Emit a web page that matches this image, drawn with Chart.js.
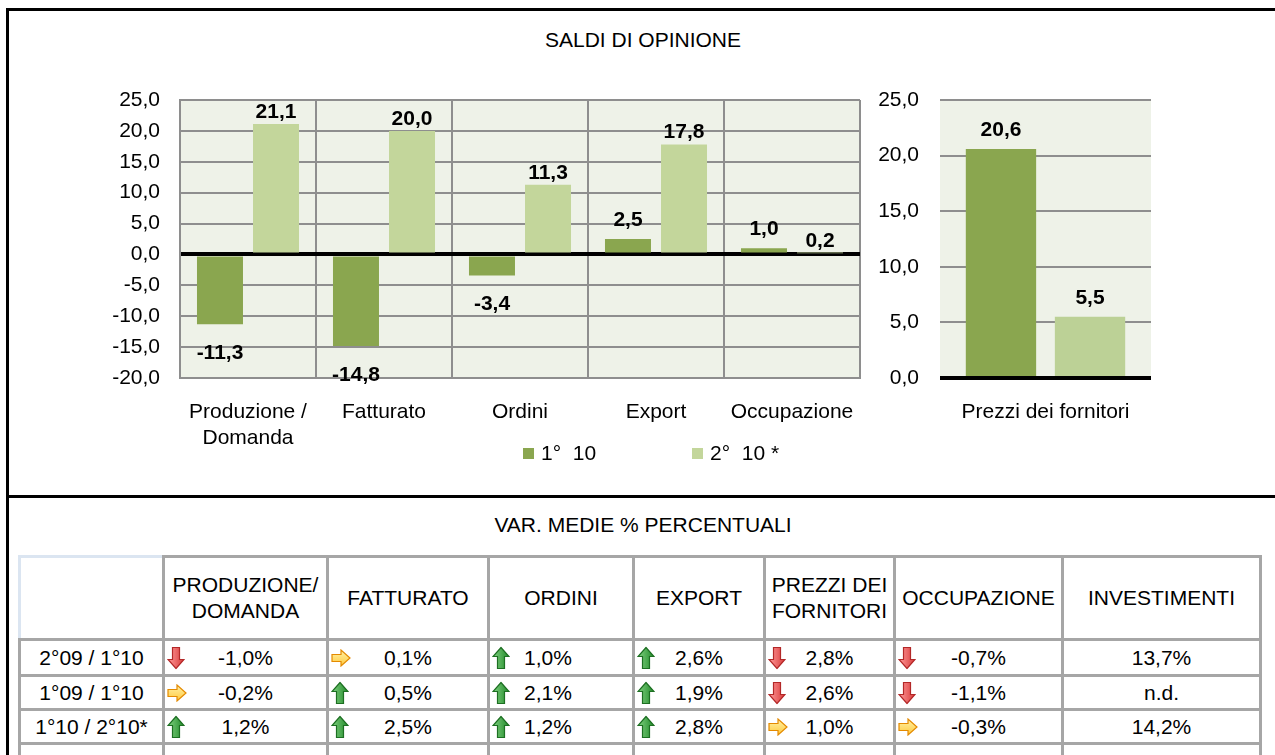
<!DOCTYPE html>
<html>
<head>
<meta charset="utf-8">
<script src="https://cdn.jsdelivr.net/npm/chart.js@4.4.1/dist/chart.umd.min.js"></script>
<style>
  html, body { margin: 0; padding: 0; background: #fff; overflow: hidden; }
  body { width: 1275px; height: 755px; position: relative; font-family: "Liberation Sans", Arial, sans-serif; color: #000; }
  .frame-top { position: absolute; left: 6px; top: 8px; width: 1300px; height: 3px; background: #000; }
  .frame-left { position: absolute; left: 6px; top: 8px; width: 3px; height: 760px; background: #000; }
  .frame-mid { position: absolute; left: 6px; top: 495px; width: 1300px; height: 3px; background: #000; }
  .titolo { position: absolute; left: 0; width: 1286px; text-align: center; font-size: 21px; line-height: 22px; }
  #legend { position: absolute; left: 523px; top: 442px; display: flex; font-size: 21px; line-height: 22px; }
  #legend .item { display: flex; align-items: center; margin-right: 96px; }
  #legend .box { width: 11px; height: 11px; margin-right: 7px; }
  #tabella { position: absolute; left: 18px; top: 555px; border-collapse: collapse; table-layout: fixed; font-size: 21px; }
  #tabella td { border: 3px solid #a6a6a6; text-align: center; padding: 0; position: relative; white-space: nowrap; }
  #tabella tr.head td { height: 80px; line-height: 26px; }
  #tabella tr.riga td { height: 31px; line-height: 31px; }
  #tabella tr.riga.prima td { height: 33px; line-height: 33px; }
  #tabella tr.vuota td { height: 20px; border-bottom: none; }
  #tabella td.angolo { border-top-color: #dbe5f1; border-left-color: #dbe5f1; }
  #tabella svg { position: absolute; left: 2px; top: 50%; transform: translateY(-50%); }
</style>
</head>
<body>
<div class="frame-top"></div>
<div class="frame-left"></div>
<div class="frame-mid"></div>

<div class="titolo" style="top:29px;">SALDI DI OPINIONE</div>
<canvas id="saldiChart" width="880" height="420" style="position:absolute; left:0; top:60px;"></canvas>
<canvas id="prezziChart" width="415" height="420" style="position:absolute; left:860px; top:60px;"></canvas>
<div id="legend"></div>

<div class="titolo" style="top:514px;">VAR. MEDIE % PERCENTUALI</div>
<table id="tabella"></table>

<script>
// *************************************************************
// dati
// *************************************************************
var categories   = [["Produzione /", "Domanda"], "Fatturato", "Ordini", "Export", "Occupazione"];
var serie1       = [-11.3, -14.8, -3.4, 2.5, 1.0];
var serie2       = [21.1, 20.0, 11.3, 17.8, 0.2];
var prezziCat    = ["Prezzi dei fornitori"];
var prezzi1      = [20.6];
var prezzi2      = [5.5];
var seriesLabels = ["1°  10", "2°  10 *"];

var tableHeaders = ["", "PRODUZIONE/<br>DOMANDA", "FATTURATO", "ORDINI", "EXPORT", "PREZZI DEI<br>FORNITORI", "OCCUPAZIONE", "INVESTIMENTI"];
var rowLabels    = ["2°09 / 1°10", "1°09 / 1°10", "1°10 / 2°10*"];
var varRiga1     = [-1.0, 0.1, 1.0, 2.6, 2.8, -0.7, 13.7];
var varRiga2     = [-0.2, 0.5, 2.1, 1.9, 2.6, -1.1, null];
var varRiga3     = [1.2, 2.5, 1.2, 2.8, 1.0, -0.3, 14.2];
var trendRiga1   = ["down", "right", "up", "up", "down", "down", null];
var trendRiga2   = ["right", "up", "up", "up", "down", "down", null];
var trendRiga3   = ["up", "up", "up", "up", "right", "right", null];

var colors      = ["#8aa64f", "#c3d69b"];
var colorsPrezzi = ["#8aa64f", "#bcd196"];
var colWidths   = [144, 164, 161, 145, 131, 130, 168, 198];
var plotBg      = "#eef2e8";
var gridGrey    = "#8e8e8e";
var FONT        = '"Liberation Sans", Arial, sans-serif';

function fmt(v) { return v.toFixed(1).replace(".", ","); }

// sfondo area grafico
var plotBackground = {
    id: "plotBackground",
    beforeDraw: function (chart) {
        var a = chart.chartArea, ctx = chart.ctx;
        ctx.save();
        ctx.fillStyle = plotBg;
        ctx.fillRect(a.left, a.top, a.right - a.left, a.bottom - a.top);
        ctx.restore();
    }
};

// etichette dei valori
var valueLabels = {
    id: "valueLabels",
    afterDatasetsDraw: function (chart) {
        var ctx = chart.ctx;
        ctx.save();
        ctx.font = "bold 21px " + FONT;
        ctx.fillStyle = "#000";
        ctx.textAlign = "center";
        ctx.textBaseline = "alphabetic";
        chart.data.datasets.forEach(function (ds, i) {
            chart.getDatasetMeta(i).data.forEach(function (bar, j) {
                var v = ds.data[j];
                if (v >= 0) {
                    ctx.fillText(fmt(v), bar.x, bar.y - ds.labelGap);
                } else {
                    ctx.fillText(fmt(v), bar.x, bar.y + 35);
                }
            });
        });
        ctx.restore();
    }
};

function zeroLine(ctx) {
    return ctx.tick && ctx.tick.value === 0 ? "#000" : gridGrey;
}
function zeroWidth(ctx) {
    return ctx.tick && ctx.tick.value === 0 ? 4 : 2;
}

// *************************************************************
// grafico saldi
// *************************************************************
new Chart(document.getElementById("saldiChart"), {
    type: "bar",
    data: {
        labels: categories,
        datasets: [
            { label: seriesLabels[0], data: serie1, backgroundColor: colors[0], labelGap: 13,
              categoryPercentage: 0.824, barPercentage: 0.821 },
            { label: seriesLabels[1], data: serie2, backgroundColor: colors[1], labelGap: 6,
              categoryPercentage: 0.824, barPercentage: 0.821 }
        ]
    },
    options: {
        responsive: false,
        animation: false,
        layout: { padding: { top: 40, right: 20, left: 0, bottom: 0 } },
        plugins: { legend: { display: false }, tooltip: { enabled: false } },
        scales: {
            x: {
                afterFit: function (s) { s.height = 102; },
                grid: { color: gridGrey, lineWidth: 2, drawTicks: false, offset: true },
                border: { color: gridGrey, width: 2 },
                ticks: { color: "#000", padding: 22, font: { family: FONT, size: 21 } }
            },
            y: {
                min: -20, max: 25,
                afterFit: function (s) { s.width = 180; },
                grid: { color: zeroLine, lineWidth: zeroWidth, drawTicks: false },
                border: { color: gridGrey, width: 2 },
                ticks: { stepSize: 5, color: "#000", padding: 20, font: { family: FONT, size: 21 },
                         callback: function (v) { return fmt(v); } }
            }
        }
    },
    plugins: [plotBackground, valueLabels]
});

// *************************************************************
// grafico prezzi dei fornitori
// *************************************************************
new Chart(document.getElementById("prezziChart"), {
    type: "bar",
    data: {
        labels: prezziCat,
        datasets: [
            { label: seriesLabels[0], data: prezzi1, backgroundColor: colorsPrezzi[0], labelGap: 13,
              categoryPercentage: 0.844, barPercentage: 0.79 },
            { label: seriesLabels[1], data: prezzi2, backgroundColor: colorsPrezzi[1], labelGap: 13,
              categoryPercentage: 0.844, barPercentage: 0.79 }
        ]
    },
    options: {
        responsive: false,
        animation: false,
        layout: { padding: { top: 40, right: 124, left: 0, bottom: 0 } },
        plugins: { legend: { display: false }, tooltip: { enabled: false } },
        scales: {
            x: {
                afterFit: function (s) { s.height = 102; },
                grid: { display: false },
                border: { display: false },
                ticks: { color: "#000", padding: 14, font: { family: FONT, size: 21 } }
            },
            y: {
                min: 0, max: 25,
                afterFit: function (s) { s.width = 80; },
                grid: { color: zeroLine, lineWidth: zeroWidth, drawTicks: false },
                border: { display: false },
                ticks: { stepSize: 5, color: "#000", padding: 21, font: { family: FONT, size: 21 },
                         callback: function (v) { return fmt(v); } }
            }
        }
    },
    plugins: [plotBackground, valueLabels]
});

// legenda
var legend = document.getElementById("legend");
seriesLabels.forEach(function (lab, i) {
    var item = document.createElement("div");
    item.className = "item";
    item.innerHTML = '<span class="box" style="background:' + colors[i] + '"></span><span>' + lab.replace(/ /g, "&nbsp;") + "</span>";
    legend.appendChild(item);
});

// *************************************************************
// tabella variazioni
// *************************************************************
var frecce = {
    up: '<svg width="18" height="23" viewBox="0 0 18 23"><defs><linearGradient id="gU" x1="0" x2="1"><stop offset="0" stop-color="#7fd07f"/><stop offset="1" stop-color="#238b2b"/></linearGradient></defs>' +
        '<polygon points="9,1 17,10 12.5,10 12.5,22 5.5,22 5.5,10 1,10" fill="url(#gU)" stroke="#1d6f22" stroke-width="1.2"/></svg>',
    down: '<svg width="18" height="23" viewBox="0 0 18 23"><defs><linearGradient id="gD" x1="0" x2="1"><stop offset="0" stop-color="#ff9a9a"/><stop offset="1" stop-color="#d83a3a"/></linearGradient></defs>' +
        '<polygon points="5.5,1 12.5,1 12.5,13 17,13 9,22 1,13 5.5,13" fill="url(#gD)" stroke="#b32828" stroke-width="1.2"/></svg>',
    right: '<svg width="20" height="18" viewBox="0 0 20 18"><defs><linearGradient id="gR" x1="0" y1="0" x2="0" y2="1"><stop offset="0" stop-color="#fff2a8"/><stop offset="1" stop-color="#ffc93c"/></linearGradient></defs>' +
        '<polygon points="1,5.5 10,5.5 10,1 19,9 10,17 10,12.5 1,12.5" fill="url(#gR)" stroke="#e48a00" stroke-width="1.2"/></svg>'
};

var tab = document.getElementById("tabella");
var html = '<colgroup>' + colWidths.map(function (w) { return '<col style="width:' + w + 'px">'; }).join("") + '</colgroup>';
html += '<tr class="head">' + tableHeaders.map(function (h, i) {
    return '<td' + (i === 0 ? ' class="angolo"' : '') + '>' + h + '</td>';
}).join("") + '</tr>';

var righe  = [varRiga1, varRiga2, varRiga3];
var trends = [trendRiga1, trendRiga2, trendRiga3];
righe.forEach(function (riga, r) {
    html += '<tr class="riga' + (r === 0 ? ' prima' : '') + '"><td>' + rowLabels[r] + '</td>';
    riga.forEach(function (v, c) {
        var pad = (c === 2) ? ' style="padding-right:26px"' : '';
        var icona = trends[r][c] ? frecce[trends[r][c]] : '';
        var testo = (v === null) ? 'n.d.' : fmt(v) + '%';
        html += '<td' + pad + '>' + icona + testo + '</td>';
    });
    html += '</tr>';
});
html += '<tr class="vuota">' + colWidths.map(function () { return '<td></td>'; }).join("") + '</tr>';
tab.innerHTML = html;
</script>
</body>
</html>
